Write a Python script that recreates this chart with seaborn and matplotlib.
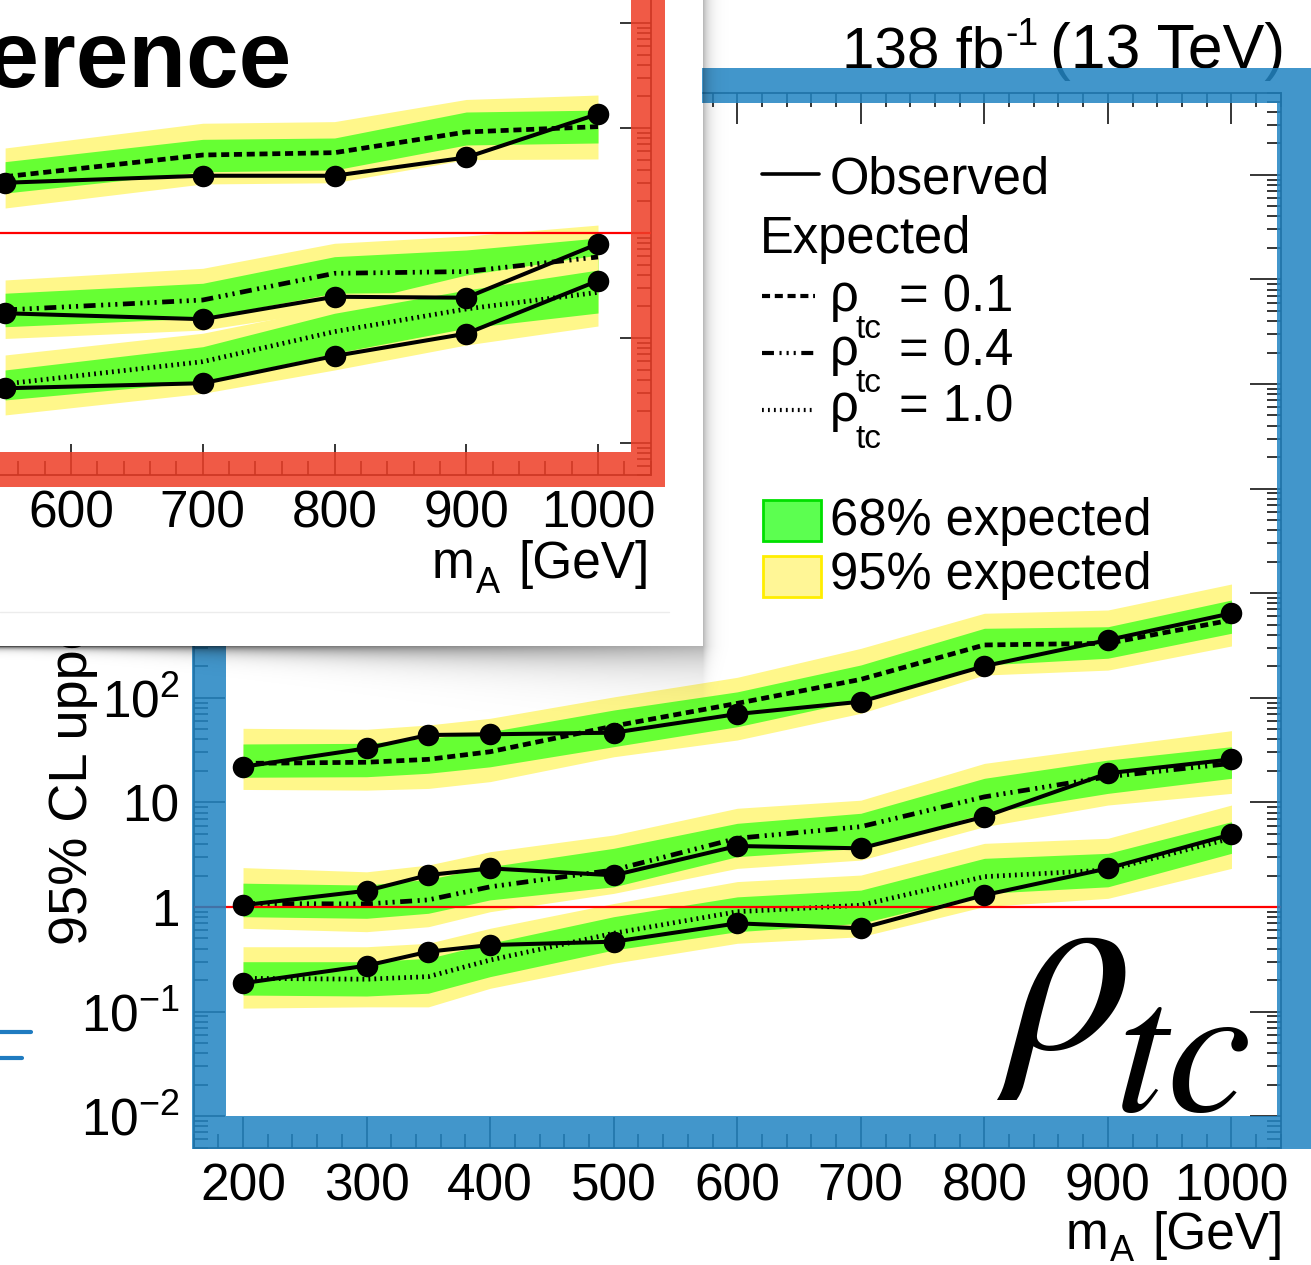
import numpy as np
import matplotlib
matplotlib.use("Agg")
import matplotlib.pyplot as plt
import seaborn as sns
from matplotlib.lines import Line2D
from matplotlib.patches import Rectangle
from matplotlib.ticker import LogLocator, MultipleLocator, NullFormatter

# main plot: limits for rho_tc = 0.1 / 0.4 / 1.0
mass = [200, 300, 350, 400, 500, 600, 700, 800, 900, 1000]

obs_01 = [21.9, 32.9, 44.1, 44.8, 46.4, 70.0, 91.8, 201, 357, 643]
exp_01 = [23.6, 24.2, 25.8, 30.5, 53.7, 88.5, 150, 320, 332, 554]
lo68_01 = [17.4, 17.6, 19.0, 21.9, 34.1, 52.9, 95.3, 206, 239, 414]
hi68_01 = [36.2, 36.7, 41.0, 47.4, 76.4, 114, 206, 462, 478, 861]
lo95_01 = [13.3, 13.1, 13.6, 15.8, 27.3, 39.5, 71.1, 165, 184, 313]
hi95_01 = [51.1, 50.0, 55.0, 63.7, 102, 157, 297, 643, 691, 1224]

obs_04 = [1.04, 1.43, 2.02, 2.34, 2.01, 3.83, 3.64, 7.30, 19.0, 25.8]
exp_04 = [1.08, 1.07, 1.17, 1.56, 2.26, 4.54, 5.86, 11.3, 17.6, 23.6]
lo68_04 = [0.808, 0.780, 0.871, 1.17, 1.56, 3.03, 3.64, 7.87, 12.2, 17.0]
hi68_04 = [1.69, 1.62, 1.84, 2.43, 3.64, 6.31, 7.87, 17.0, 25.4, 34.1]
lo95_04 = [0.626, 0.581, 0.648, 0.902, 1.35, 2.34, 2.81, 5.86, 9.44, 12.2]
hi95_04 = [2.38, 2.17, 2.52, 3.38, 4.88, 8.79, 10.5, 23.6, 34.1, 48.5]

obs_10 = [0.187, 0.275, 0.374, 0.433, 0.466, 0.698, 0.626, 1.30, 2.34, 4.95]
exp_10 = [0.208, 0.204, 0.216, 0.311, 0.561, 0.902, 1.04, 1.95, 2.26, 4.54]
lo68_10 = [0.144, 0.141, 0.150, 0.216, 0.388, 0.581, 0.698, 1.35, 1.56, 3.26]
hi68_10 = [0.300, 0.300, 0.323, 0.450, 0.808, 1.25, 1.45, 2.92, 3.26, 6.54]
lo95_10 = [0.108, 0.111, 0.111, 0.167, 0.290, 0.450, 0.520, 1.01, 1.21, 2.34]
hi95_10 = [0.417, 0.417, 0.450, 0.626, 1.08, 1.75, 2.02, 4.06, 4.54, 9.44]

# reference plot (pasted screenshot, top left)
ref_mass = [550, 700, 800, 900, 1000]

ref_obs_01 = [3.01, 3.51, 3.51, 5.24, 13.6]
ref_exp_01 = [3.44, 5.53, 5.82, 9.16, 10.3]
ref_lo68_01 = [2.40, 3.83, 3.98, 6.89, 7.2]
ref_hi68_01 = [4.78, 7.8, 8.03, 14.2, 14.8]
ref_lo95_01 = [1.73, 2.93, 3.01, 5.0, 5.07]
ref_hi95_01 = [6.45, 11.1, 11.5, 18.7, 20.6]

ref_obs_04 = [0.172, 0.151, 0.247, 0.242, 0.789]
ref_exp_04 = [0.185, 0.230, 0.413, 0.429, 0.591]
ref_lo68_04 = [0.128, 0.155, 0.267, 0.274, 0.373]
ref_hi68_04 = [0.267, 0.332, 0.595, 0.689, 0.896]
ref_lo95_04 = [0.099, 0.119, 0.185, 0.202, 0.274]
ref_hi95_04 = [0.357, 0.461, 0.798, 0.936, 1.19]

ref_obs_10 = [0.0332, 0.0371, 0.0674, 0.110, 0.351]
ref_exp_10 = [0.0365, 0.0595, 0.115, 0.189, 0.272]
ref_lo68_10 = [0.0257, 0.0384, 0.0715, 0.124, 0.173]
ref_hi68_10 = [0.0496, 0.0826, 0.172, 0.286, 0.444]
ref_lo95_10 = [0.0185, 0.0297, 0.0496, 0.0858, 0.130]
ref_hi95_10 = [0.0689, 0.111, 0.199, 0.398, 0.617]

x_ticks = [200, 300, 400, 500, 600, 700, 800, 900, 1000]
y_ticks = [1e-2, 1e-1, 1, 10, 1e2, 1e3, 1e4, 1e5, 1e6, 1e7]
# labels above 10^2 sit under the pasted window, so they stay empty
y_tick_labels = ['$10^{-2}$', '$10^{-1}$', '1', '10', '$10^{2}$', '', '', '', '', '']
ref_x_tick_labels = ['', '', '', '', '600', '700', '800', '900', '1000']
rho_values = ['0.1', '0.4', '1.0']

GREEN = '#66ff33'
YELLOW = '#fff78a'
BLUE = '#2385c3'
RED = '#ee3f28'
DASH_01 = (0, (5.8, 3.4))
DASH_04 = (0, (8.6, 4.0, 1.5, 3.6, 1.5, 3.6, 1.5, 4.0))
DASH_10 = (0, (1.3, 3.0))

W, H = 1311, 1265

sns.set_style('ticks', {'axes.edgecolor': 'black', 'xtick.color': 'black',
                        'ytick.color': 'black', 'text.color': 'black'})
plt.rcParams['font.family'] = ['Liberation Sans', 'DejaVu Sans']
plt.rcParams['mathtext.fontset'] = 'custom'
plt.rcParams['mathtext.rm'] = 'Liberation Sans'
plt.rcParams['mathtext.it'] = 'Liberation Sans:italic'
plt.rcParams['mathtext.bf'] = 'Liberation Sans:bold'
plt.rcParams['lines.scale_dashes'] = False

fig = plt.figure(figsize=(W / 100, H / 100), dpi=100)


# helpers working in picture pixels (origin top left)
def px_axes(x0, y0, x1, y1, z):
    return fig.add_axes([x0 / W, 1 - y1 / H, (x1 - x0) / W, (y1 - y0) / H], zorder=z)


def ftext(x, y, s, **kw):
    kw.setdefault('va', 'baseline')
    return fig.text(x / W, 1 - y / H, s, **kw)


def fline(x0, x1, y, **kw):
    fig.add_artist(Line2D([x0 / W, x1 / W], [1 - y / H, 1 - y / H],
                          transform=fig.transFigure, **kw))


def frect(x0, y0, x1, y1, **kw):
    fig.add_artist(Rectangle((x0 / W, 1 - y1 / H), (x1 - x0) / W, (y1 - y0) / H,
                             transform=fig.transFigure, **kw))


def draw_limits(ax, m, obs, exp, lo68, hi68, lo95, hi95, style):
    ax.fill_between(m, lo95, hi95, color=YELLOW, lw=0, zorder=1)
    ax.fill_between(m, lo68, hi68, color=GREEN, lw=0, zorder=1)
    sns.lineplot(x=m, y=exp, ax=ax, color='black', lw=3.4, linestyle=style, zorder=3)
    sns.lineplot(x=m, y=obs, ax=ax, color='black', lw=2.9, marker='o',
                 markersize=15.5, markeredgewidth=0, zorder=4)


def style_axes(ax, xlabels, ylabels):
    ax.set_yscale('log')
    ax.set_xticks(x_ticks)
    ax.set_xticklabels(xlabels)
    ax.xaxis.set_minor_locator(MultipleLocator(20))
    ax.set_yticks(y_ticks)
    ax.set_yticklabels(ylabels)
    ax.yaxis.set_minor_locator(LogLocator(base=10, subs=np.arange(2, 10), numticks=100))
    ax.yaxis.set_minor_formatter(NullFormatter())
    ax.set_xlim(160, 1040)
    ax.set_ylim(5e-3, 6e7)
    ax.tick_params(which='both', direction='in', top=True, right=True,
                   labelsize=37, width=1.1)
    ax.tick_params(which='major', length=22)
    ax.tick_params(which='minor', length=10)
    ax.tick_params(axis='x', pad=11)
    ax.tick_params(axis='y', pad=10)
    for s in ax.spines.values():
        s.set_linewidth(1.2)
        s.set_visible(True)
    ax.set_xlabel('')
    ax.set_ylabel('')
    ax.set_facecolor('white')
    ax.axhline(1, color='red', lw=1.6, zorder=3.5)


# ---------------- main plot ----------------
ax = px_axes(193.6, 93.4, 1280.9, 1147.7, 1)
draw_limits(ax, mass, obs_01, exp_01, lo68_01, hi68_01, lo95_01, hi95_01, DASH_01)
draw_limits(ax, mass, obs_04, exp_04, lo68_04, hi68_04, lo95_04, hi95_04, DASH_04)
draw_limits(ax, mass, obs_10, exp_10, lo68_10, hi68_10, lo95_10, hi95_10, DASH_10)
style_axes(ax, [str(v) for v in x_ticks], y_tick_labels)

ftext(1004, 68, '138 fb', ha='right', fontsize=42, zorder=1.5)
ftext(1005, 45, '-1', ha='left', fontsize=27, zorder=1.5)
ftext(1285, 68, '(13 TeV)', ha='right', fontsize=45, zorder=1.5)
ftext(1284, 1249, '[GeV]', ha='right', fontsize=37, zorder=1.5)
ftext(1108, 1249, 'm', ha='right', fontsize=37, zorder=1.5)
ftext(1110, 1261, 'A', ha='left', fontsize=26, zorder=1.5)
ftext(73, 945, '95% CL upper limit', rotation=90, ha='center', va='bottom',
      fontsize=39, zorder=1.5)
ftext(996, 1048, r'$\rho$', ha='left', fontsize=181, math_fontfamily='stix', zorder=1.5)
ftext(1250, 1111, r'$tc$', ha='right', fontsize=137, math_fontfamily='stix', zorder=1.5)

# legend
fline(762, 819, 174, color='black', lw=2.6, zorder=1.5)
ftext(830, 193, 'Observed', fontsize=36.5, zorder=1.5)
ftext(760, 253.5, 'Expected', fontsize=36.5, zorder=1.5)
for rho, ly, base, dash in zip(rho_values, [296.4, 353, 409.6], [311, 365, 421],
                               [DASH_01, DASH_04, DASH_10]):
    fline(762, 815, ly, color='black', lw=3, linestyle=dash, zorder=1.5)
    ftext(830, base, 'ρ', fontsize=36.5, zorder=1.5)
    ftext(856, base + 27, 'tc', fontsize=24, zorder=1.5)
    ftext(899, base, '= ' + rho, fontsize=36.5, zorder=1.5)
frect(763, 500, 821, 541, facecolor='#5cff50', edgecolor='#00e000', lw=2, zorder=1.5)
frect(763, 556, 821, 597, facecolor='#fff696', edgecolor='#ffee00', lw=2, zorder=1.5)
ftext(830, 535, '68% expected', fontsize=36.5, zorder=1.5)
ftext(830, 589, '95% expected', fontsize=36.5, zorder=1.5)

# blue highlight frame around the main plot
for x0, y0, x1, y1 in [(192, 68, 1311, 103), (192, 1116, 1311, 1149),
                       (192, 103, 226, 1116), (1277, 103, 1311, 1116)]:
    frect(x0, y0, x1, y1, facecolor=BLUE, edgecolor='none', alpha=0.86, zorder=2)
fline(0, 31, 1032, color='#1f7bc0', lw=3, zorder=2)
fline(0, 22, 1058, color='#1f7bc0', lw=3, zorder=2)

# ---------------- pasted reference window ----------------
yy, xx = np.mgrid[0:720, 0:735].astype(float)
t = np.clip(xx / 702.0, 0, 1)
d = np.clip(yy - 646, 0, None)
e = np.clip(xx - 702, 0, None)
amp = np.where(xx <= 702, 0.7 - 0.4 * t, 0.32)
spread = 2.5 + 20 * t ** 1.5
alpha = np.zeros_like(xx)
alpha = np.where((yy >= 646) & (xx <= 702), amp * np.exp(-d / spread), alpha)
alpha = np.where((xx > 702) & (yy < 646), 0.32 * np.exp(-e / 6), alpha)
alpha = np.where((xx > 702) & (yy >= 646), 0.32 * np.exp(-e / 6) * np.exp(-d / 22.5), alpha)
shadow = np.zeros((720, 735, 4))
shadow[..., 3] = alpha
fig.figimage(shadow, xo=0, yo=H - 720, origin='upper', zorder=3)

frect(-5, -5, 702, 646, facecolor='white', edgecolor='none', zorder=3.1)
fline(0, 669, 612, color='#ececec', lw=1, zorder=3.2)

ax_ref = px_axes(-508.7, -583.7, 650.7, 474.6, 4)
draw_limits(ax_ref, ref_mass, ref_obs_01, ref_exp_01, ref_lo68_01, ref_hi68_01,
            ref_lo95_01, ref_hi95_01, DASH_01)
draw_limits(ax_ref, ref_mass, ref_obs_04, ref_exp_04, ref_lo68_04, ref_hi68_04,
            ref_lo95_04, ref_hi95_04, DASH_04)
draw_limits(ax_ref, ref_mass, ref_obs_10, ref_exp_10, ref_lo68_10, ref_hi68_10,
            ref_lo95_10, ref_hi95_10, DASH_10)
style_axes(ax_ref, ref_x_tick_labels, [''] * len(y_ticks))

ftext(650, 578, '[GeV]', ha='right', fontsize=37, zorder=5)
ftext(474, 578, 'm', ha='right', fontsize=37, zorder=5)
ftext(476, 593, 'A', ha='left', fontsize=26, zorder=5)
ftext(292, 87, 'Reference', ha='right', fontsize=68, fontweight='bold', zorder=5)

# red highlight frame of the reference
frect(631, -5, 665, 452, facecolor=RED, edgecolor='none', alpha=0.86, zorder=5)
frect(-5, 452, 665, 487, facecolor=RED, edgecolor='none', alpha=0.86, zorder=5)

fig.savefig('out.png', dpi=100)
